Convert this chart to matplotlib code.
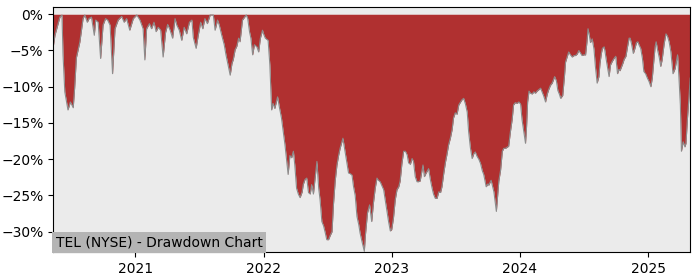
import matplotlib
matplotlib.use("Agg")
import matplotlib.pyplot as plt
import matplotlib.dates as mdates
from matplotlib.ticker import PercentFormatter
import pandas as pd

title = "TEL (NYSE) - Drawdown Chart"

# drawdown from the running high, in percent
dates = [
    "2020-05-12", "2020-05-17", "2020-05-31", "2020-06-06", "2020-06-09", "2020-06-14",
    "2020-06-23", "2020-06-30", "2020-07-08", "2020-07-12", "2020-07-17", "2020-07-27",
    "2020-08-05", "2020-08-10", "2020-08-17", "2020-08-22", "2020-08-29", "2020-09-06",
    "2020-09-10", "2020-09-17", "2020-09-24", "2020-10-01", "2020-10-08", "2020-10-14",
    "2020-10-21", "2020-10-28", "2020-11-04", "2020-11-13", "2020-11-23", "2020-11-30",
    "2020-12-07", "2020-12-16", "2020-12-26",
    "2021-01-05", "2021-01-14", "2021-01-23", "2021-01-28", "2021-02-02", "2021-02-10",
    "2021-02-16", "2021-02-23", "2021-03-01", "2021-03-07", "2021-03-14", "2021-03-21",
    "2021-03-28", "2021-04-03", "2021-04-10", "2021-04-17", "2021-04-24", "2021-04-29",
    "2021-05-06", "2021-05-13", "2021-05-20", "2021-05-27", "2021-06-04", "2021-06-11",
    "2021-06-15", "2021-06-23", "2021-06-29", "2021-07-06", "2021-07-12", "2021-07-18",
    "2021-07-25", "2021-08-02", "2021-08-11", "2021-08-16", "2021-08-23", "2021-08-28",
    "2021-09-04", "2021-09-11", "2021-09-16", "2021-09-23", "2021-09-28", "2021-10-03",
    "2021-10-07", "2021-10-12", "2021-10-17", "2021-10-22", "2021-10-26", "2021-11-02",
    "2021-11-08", "2021-11-13", "2021-11-17", "2021-11-22", "2021-11-26", "2021-12-01",
    "2021-12-06", "2021-12-13", "2021-12-18", "2021-12-23", "2021-12-29",
    "2022-01-01", "2022-01-06", "2022-01-14", "2022-01-19", "2022-01-24", "2022-01-28",
    "2022-02-02", "2022-02-10", "2022-02-15", "2022-02-21", "2022-02-26", "2022-03-03",
    "2022-03-08", "2022-03-12", "2022-03-17", "2022-03-22", "2022-03-27", "2022-03-31",
    "2022-04-05", "2022-04-10", "2022-04-15", "2022-04-21", "2022-04-24", "2022-04-29",
    "2022-05-04", "2022-05-09", "2022-05-14", "2022-05-18", "2022-05-23", "2022-05-28",
    "2022-06-02", "2022-06-07", "2022-06-11", "2022-06-16", "2022-06-21", "2022-06-26",
    "2022-06-30", "2022-07-05", "2022-07-10", "2022-07-15", "2022-07-19", "2022-07-24",
    "2022-07-29", "2022-08-03", "2022-08-07", "2022-08-15", "2022-08-20", "2022-08-24",
    "2022-08-31", "2022-09-05", "2022-09-10", "2022-09-14", "2022-09-19", "2022-09-24",
    "2022-09-29", "2022-10-03", "2022-10-09", "2022-10-15", "2022-10-18", "2022-10-24",
    "2022-10-30", "2022-11-05", "2022-11-10", "2022-11-15", "2022-11-20", "2022-11-24",
    "2022-11-29", "2022-12-09", "2022-12-14", "2022-12-19", "2022-12-23", "2022-12-28",
    "2023-01-01", "2023-01-06", "2023-01-11", "2023-01-16", "2023-01-21", "2023-01-25",
    "2023-01-30", "2023-02-04", "2023-02-09", "2023-02-14", "2023-02-18", "2023-02-23",
    "2023-02-28", "2023-03-04", "2023-03-09", "2023-03-14", "2023-03-18", "2023-03-23",
    "2023-03-31", "2023-04-04", "2023-04-08", "2023-04-16", "2023-04-21", "2023-04-26",
    "2023-04-30", "2023-05-05", "2023-05-10", "2023-05-15", "2023-05-20", "2023-05-24",
    "2023-05-29", "2023-06-03", "2023-06-07", "2023-06-12", "2023-06-17", "2023-06-22",
    "2023-06-26", "2023-07-01", "2023-07-06", "2023-07-11", "2023-07-16", "2023-07-20",
    "2023-07-25", "2023-07-30", "2023-08-04", "2023-08-08", "2023-08-13", "2023-08-18",
    "2023-08-23", "2023-08-27", "2023-09-01", "2023-09-06", "2023-09-11", "2023-09-16",
    "2023-09-20", "2023-09-27", "2023-10-02", "2023-10-04", "2023-10-11", "2023-10-19",
    "2023-10-26", "2023-11-02", "2023-11-07", "2023-11-12", "2023-11-16", "2023-11-21",
    "2023-11-30", "2023-12-05", "2023-12-10", "2023-12-14", "2023-12-19", "2023-12-24",
    "2023-12-29",
    "2024-01-03", "2024-01-07", "2024-01-12", "2024-01-17", "2024-01-20", "2024-01-23",
    "2024-01-27", "2024-01-31", "2024-02-05", "2024-02-10", "2024-02-14", "2024-02-19",
    "2024-02-24", "2024-02-29", "2024-03-04", "2024-03-09", "2024-03-14", "2024-03-19",
    "2024-03-23", "2024-03-28", "2024-04-02", "2024-04-09", "2024-04-14", "2024-04-18",
    "2024-04-23", "2024-04-26", "2024-05-02", "2024-05-07", "2024-05-10", "2024-05-15",
    "2024-05-19", "2024-05-24", "2024-05-29", "2024-06-03", "2024-06-07", "2024-06-12",
    "2024-06-17", "2024-06-21", "2024-06-26", "2024-07-01", "2024-07-06", "2024-07-10",
    "2024-07-13", "2024-07-17", "2024-07-20", "2024-07-25", "2024-07-30", "2024-08-03",
    "2024-08-08", "2024-08-13", "2024-08-16", "2024-08-20", "2024-08-23", "2024-08-28",
    "2024-08-30", "2024-09-04", "2024-09-11", "2024-09-15", "2024-09-20", "2024-09-25",
    "2024-09-30", "2024-10-05", "2024-10-09", "2024-10-12", "2024-10-16", "2024-10-20",
    "2024-10-24", "2024-10-29", "2024-11-02", "2024-11-07", "2024-11-10", "2024-11-14",
    "2024-11-19", "2024-11-23", "2024-11-28", "2024-12-02", "2024-12-05", "2024-12-10",
    "2024-12-15", "2024-12-19", "2024-12-24", "2024-12-29",
    "2025-01-03", "2025-01-08", "2025-01-12", "2025-01-16", "2025-01-20", "2025-01-23",
    "2025-01-27", "2025-02-01", "2025-02-05", "2025-02-09", "2025-02-15", "2025-02-20",
    "2025-02-24", "2025-03-01", "2025-03-06", "2025-03-12", "2025-03-18", "2025-03-25",
    "2025-03-29", "2025-04-02", "2025-04-05", "2025-04-10", "2025-04-15", "2025-04-18",
    "2025-04-22", "2025-04-25", "2025-04-30",
]

drawdown = [
    -4.5, -2.9, -0.4, -0.1, -5.6, -10.7,
    -13.2, -12.1, -12.9, -10.2, -6.0, -3.8,
    -0.6, -0.1, -1.1, -0.6, -0.4, -2.9,
    -0.8, -1.1, -6.1, -1.5, -0.6, -0.8,
    -1.5, -8.2, -2.0, -0.8, -0.3, -1.1,
    -0.6, -2.2, -0.6,
    -0.1, -0.8, -2.0, -6.3, -2.0, -1.3,
    -2.0, -1.1, -2.4, -1.8, -2.2, -5.9,
    -2.5, -1.4, -2.2, -3.3, -0.6, -1.5,
    -2.2, -3.6, -1.8, -2.7, -1.1, -0.8,
    -3.2, -4.7, -2.9, -1.1, -2.0, -0.6,
    -1.3, -0.1, -0.1, -2.2, -0.8, -1.5,
    -2.9, -4.2, -5.6, -7.2, -8.4, -6.8,
    -6.2, -4.9, -4.4, -3.3, -3.8, -0.8,
    -0.4, -0.1, -0.6, -2.4, -3.3, -5.6,
    -4.2, -4.5, -5.2, -3.3, -2.2,
    -2.7, -3.3, -3.6, -7.0, -13.2, -12.3,
    -13.0, -11.4, -12.8, -14.3, -16.2, -18.0,
    -20.3, -22.1, -19.5, -19.8, -18.9, -20.8,
    -24.0, -24.8, -25.3, -24.5, -23.5, -22.8,
    -22.6, -24.6, -24.8, -23.5, -24.8, -22.5,
    -20.3, -24.0, -25.6, -28.6, -29.2, -30.2,
    -31.1, -31.1, -30.5, -30.0, -26.3, -23.0,
    -20.8, -19.4, -18.5, -17.1, -18.6, -19.8,
    -21.9, -22.0, -22.2, -23.7, -25.0, -27.9,
    -29.0, -30.2, -31.5, -32.7, -30.5, -27.4,
    -26.3, -28.6, -26.0, -24.0, -22.6, -22.9,
    -23.1, -24.2, -25.8, -27.3, -28.6, -29.9,
    -29.7, -28.1, -25.6, -24.2, -23.8, -23.0,
    -20.6, -18.9, -18.9, -19.4, -20.5, -20.7,
    -19.9, -20.3, -22.4, -23.1, -23.1, -23.0,
    -20.8, -22.4, -22.0, -21.3, -22.8, -24.0,
    -24.8, -25.4, -25.4, -24.5, -24.6, -23.8,
    -22.0, -20.4, -19.4, -18.0, -17.1, -15.9,
    -14.3, -13.6, -13.8, -12.5, -12.1, -11.8,
    -11.6, -12.4, -13.5, -16.2, -18.4, -19.9,
    -19.2, -19.0, -19.6, -20.0, -20.6, -21.6,
    -22.1, -23.8, -23.4, -23.6, -22.9, -24.5,
    -27.2, -23.0, -21.5, -18.9, -18.5, -18.5,
    -18.2, -16.2, -14.5, -12.5, -12.2, -12.3,
    -12.1,
    -12.4, -14.5, -16.2, -17.8, -15.5, -12.1,
    -10.6, -10.9, -11.0, -10.7, -10.9, -10.6,
    -10.4, -10.2, -10.7, -11.3, -12.1, -11.0,
    -10.4, -9.8, -9.5, -8.6, -9.2, -10.5,
    -11.1, -11.6, -11.2, -8.5, -6.6, -5.8,
    -5.2, -5.6, -5.9, -5.7, -5.7, -5.5,
    -5.0, -5.3, -5.7, -5.6, -5.6, -3.8,
    -2.0, -3.0, -3.9, -3.4, -4.8, -7.2,
    -9.5, -8.6, -6.8, -5.4, -4.7, -4.5,
    -5.0, -6.6, -8.6, -7.0, -6.5, -6.1,
    -5.8, -8.2, -7.6, -7.8, -7.3, -6.8,
    -6.2, -5.8, -4.6, -3.3, -3.3, -4.1,
    -5.4, -4.8, -3.9, -3.8, -4.2, -4.7,
    -6.1, -7.9, -8.2, -8.8,
    -9.3, -10.0, -8.8, -6.6, -4.5, -3.8,
    -4.9, -6.0, -7.2, -6.3, -4.0, -2.7,
    -3.0, -3.8, -5.2, -8.2, -7.5, -5.6,
    -8.8, -12.5, -18.9, -17.6, -18.3, -17.8,
    -14.5, -12.5, -8.8,
]

x = pd.to_datetime(dates)

fig = plt.figure(figsize=(7, 2.8), dpi=100)
ax = fig.add_axes([0.076, 0.1, 0.91, 0.875])
ax.set_facecolor("#ebebeb")

ax.fill_between(x, drawdown, 0, color="#b03030", linewidth=0)
ax.plot(x, drawdown, color="#8c8c8c", linewidth=0.8)

ax.set_xlim(x[0], x[-1])
ax.set_ylim(-32.8, 1.0)
ax.set_yticks([0, -5, -10, -15, -20, -25, -30])
ax.yaxis.set_major_formatter(PercentFormatter(decimals=0))
ax.xaxis.set_major_locator(mdates.YearLocator())
ax.xaxis.set_major_formatter(mdates.DateFormatter("%Y"))

ax.text(0.004, 0.012, title, transform=ax.transAxes, fontsize=10,
        ha="left", va="bottom",
        bbox=dict(facecolor="#b4b4b4", edgecolor="none", pad=2.5))

fig.savefig("out.png", dpi=100)
